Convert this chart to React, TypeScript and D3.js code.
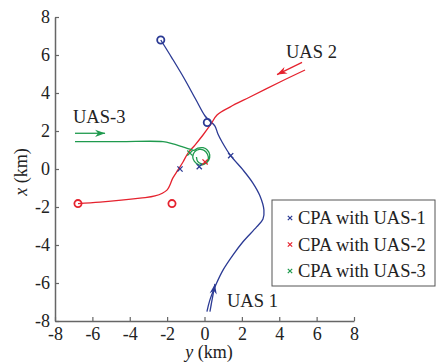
import React, { useEffect, useRef } from "react";
import * as d3 from "d3";

// trajectories in km, [y, x] as plotted (horizontal = y, vertical = x)
const uas1Path: [number, number][] = [
  [-2.34, 6.79], [-1.74, 5.84], [-1.1, 4.79], [-0.45, 3.63], [0.03, 2.79],
  [0.29, 2.53], [0.56, 2.26], [0.72, 1.84], [0.94, 1.42], [1.4, 0.7],
  [2.06, -0.05], [2.59, -0.74], [2.97, -1.42], [3.18, -2.16], [3.13, -2.63],
  [2.79, -3.05], [2.06, -3.83], [1.52, -4.53], [0.99, -5.32], [0.65, -6.0],
  [0.29, -6.89], [0.13, -7.51],
];
const uas2Path: [number, number][] = [
  [5.38, 5.21], [4.04, 4.58], [2.43, 3.79], [1.36, 3.26], [0.67, 2.84],
  [0.35, 2.37], [-0.08, 1.79], [-0.51, 1.26], [-0.88, 0.84], [-1.15, 0.37],
  [-1.42, -0.05], [-1.69, -0.47], [-2.01, -1.11], [-2.65, -1.42],
  [-3.45, -1.53], [-5.59, -1.74], [-6.77, -1.82],
];
const uas3Path: [number, number][] = [
  [-6.93, 1.44], [-4.52, 1.44], [-2.22, 1.44], [-1.74, 1.34], [-1.2, 1.18],
  [-0.78, 1.05], [-0.58, 0.98], [-0.36, 1.1], [-0.08, 1.12], [0.16, 0.99],
  [0.28, 0.74], [0.22, 0.45], [-0.01, 0.25], [-0.3, 0.22], [-0.54, 0.4],
  [-0.63, 0.64], [-0.53, 0.9], [-0.29, 1.03], [-0.02, 0.98], [0.16, 0.78],
  [0.2, 0.52], [0.05, 0.31], [-0.19, 0.28], [-0.37, 0.4], [-0.43, 0.63],
];
const uas1Circles: [number, number][] = [[-2.34, 6.79], [0.15, 2.45]];
const uas2Circles: [number, number][] = [[-6.77, -1.82], [-1.74, -1.82]];

const cpaUas1: [number, number][] = [[-1.31, 0.0], [-0.28, 0.12], [1.4, 0.7]];
const cpaUas2: [number, number][] = [[0.03, 0.37]];
const cpaUas3: [number, number][] = [[-0.78, 0.84]];

// direction arrows [from, to]
const arrow1: [number, number][] = [[0.29, -7.51], [0.56, -6.05]];
const arrow2: [number, number][] = [[5.22, 5.61], [3.88, 4.97]];
const arrow3: [number, number][] = [[-6.93, 1.88], [-5.32, 1.88]];

const ticks = [-8, -6, -4, -2, 0, 2, 4, 6, 8];
const legendLabels = ["CPA with UAS-1", "CPA with UAS-2", "CPA with UAS-3"];

const blue = "#2b3a94";
const red = "#e5222e";
const green = "#1f9a4e";
const axisColor = "#666";
const textColor = "#222";
const font = "'Liberation Serif', 'Times New Roman', serif";

export default function App() {
  const ref = useRef<SVGSVGElement>(null);

  useEffect(() => {
    document.body.style.margin = "0";
    const width = 437;
    const height = 363;
    const svg = d3.select(ref.current);
    svg.selectAll("*").remove();
    svg.attr("width", width).attr("height", height);

    const x = d3.scaleLinear().domain([-8, 8]).range([55, 354]);
    const y = d3.scaleLinear().domain([-8, 8]).range([321, 17]);
    const fmt = (d: number) => String(d); // plain hyphen minus like the original

    // axes
    const xAxis = svg.append("g").attr("transform", `translate(0,${y(-8)})`)
      .call(d3.axisBottom(x).tickValues(ticks).tickFormat(fmt as any)
        .tickSizeInner(-4).tickSizeOuter(0).tickPadding(6));
    const yAxis = svg.append("g").attr("transform", `translate(${x(-8)},0)`)
      .call(d3.axisLeft(y).tickValues(ticks).tickFormat(fmt as any)
        .tickSizeInner(-4).tickSizeOuter(0).tickPadding(5));
    [xAxis, yAxis].forEach((a) => {
      a.attr("font-family", font).attr("font-size", 18);
      a.select(".domain").attr("stroke", axisColor).attr("stroke-width", 1.5);
      a.selectAll(".tick line").attr("stroke", axisColor).attr("stroke-width", 1.2);
      a.selectAll(".tick text")
        .attr("fill", textColor)
        .style("font-family", font)
        .style("font-size", "18px");
    });

    // axis titles
    const xt = svg.append("text")
      .attr("x", 209).attr("y", 358)
      .attr("text-anchor", "middle")
      .attr("fill", textColor)
      .style("font-family", font).style("font-size", "18px");
    xt.append("tspan").attr("font-style", "italic").text("y");
    xt.append("tspan").text(" (km)");
    const yt = svg.append("text")
      .attr("transform", `translate(27,172) rotate(-90)`)
      .attr("text-anchor", "middle")
      .attr("fill", textColor)
      .style("font-family", font).style("font-size", "18px");
    yt.append("tspan").attr("font-style", "italic").text("x");
    yt.append("tspan").text(" (km)");

    const line = d3.line<[number, number]>()
      .x((d) => x(d[0]))
      .y((d) => y(d[1]))
      .curve(d3.curveCatmullRom.alpha(0.5));

    const paths = [
      { data: uas1Path, color: blue },
      { data: uas2Path, color: red },
      { data: uas3Path, color: green },
    ];
    svg.selectAll(".traj").data(paths).enter().append("path")
      .attr("class", "traj")
      .attr("fill", "none")
      .attr("stroke", (d) => d.color)
      .attr("stroke-width", 1.3)
      .attr("d", (d) => line(d.data));

    // circles
    const circ = [
      ...uas1Circles.map((p) => ({ p, color: blue })),
      ...uas2Circles.map((p) => ({ p, color: red })),
    ];
    svg.selectAll(".circ").data(circ).enter().append("circle")
      .attr("class", "circ")
      .attr("cx", (d) => x(d.p[0]))
      .attr("cy", (d) => y(d.p[1]))
      .attr("r", 3.6)
      .attr("fill", "none")
      .attr("stroke", (d) => d.color)
      .attr("stroke-width", 1.8);

    // cpa crosses
    const crossPath = (cx: number, cy: number, s: number) =>
      `M${cx - s},${cy - s}L${cx + s},${cy + s}M${cx - s},${cy + s}L${cx + s},${cy - s}`;
    const marks = [
      ...cpaUas1.map((p) => ({ p, color: blue })),
      ...cpaUas2.map((p) => ({ p, color: red })),
      ...cpaUas3.map((p) => ({ p, color: green })),
    ];
    svg.selectAll(".cpa").data(marks).enter().append("path")
      .attr("class", "cpa")
      .attr("fill", "none")
      .attr("stroke", (d) => d.color)
      .attr("stroke-width", 1.3)
      .attr("d", (d) => crossPath(x(d.p[0]), y(d.p[1]), 2.6));

    // arrows
    const arrows = [
      { a: arrow1, color: blue },
      { a: arrow2, color: red },
      { a: arrow3, color: green },
    ];
    arrows.forEach(({ a, color }) => {
      const x0 = x(a[0][0]), y0 = y(a[0][1]);
      const x1 = x(a[1][0]), y1 = y(a[1][1]);
      svg.append("line")
        .attr("x1", x0).attr("y1", y0).attr("x2", x1).attr("y2", y1)
        .attr("stroke", color).attr("stroke-width", 1.3);
      const ang = Math.atan2(y1 - y0, x1 - x0);
      const len = 10, hw = 3.6;
      const bx = x1 - len * Math.cos(ang), by = y1 - len * Math.sin(ang);
      const nx = -Math.sin(ang), ny = Math.cos(ang);
      const mx = x1 - len * 0.7 * Math.cos(ang), my = y1 - len * 0.7 * Math.sin(ang);
      svg.append("path")
        .attr("d", `M${x1},${y1}L${bx + nx * hw},${by + ny * hw}L${mx},${my}L${bx - nx * hw},${by - ny * hw}Z`)
        .attr("fill", color);
    });

    // labels
    const labels = [
      { t: "UAS 2", px: 286, py: 58 },
      { t: "UAS-3", px: 73, py: 123 },
      { t: "UAS 1", px: 227, py: 307 },
    ];
    svg.selectAll(".lbl").data(labels).enter().append("text")
      .attr("class", "lbl")
      .attr("x", (d) => d.px).attr("y", (d) => d.py)
      .attr("fill", textColor)
      .style("font-family", font).style("font-size", "18.5px")
      .text((d) => d.t);

    // legend
    const lg = svg.append("g");
    lg.append("rect")
      .attr("x", 272).attr("y", 200).attr("width", 163).attr("height", 86)
      .attr("fill", "white").attr("stroke", "#555").attr("stroke-width", 1);
    const lcol = [blue, red, green];
    legendLabels.forEach((t, i) => {
      const cy = 218 + i * 26.5;
      lg.append("path")
        .attr("d", crossPath(290, cy, 2.2))
        .attr("stroke", lcol[i]).attr("stroke-width", 1.2).attr("fill", "none");
      lg.append("text")
        .attr("x", 298).attr("y", cy + 6)
        .attr("fill", textColor)
        .style("font-family", font).style("font-size", "18.5px")
        .text(t);
    });
  }, []);

  return <svg ref={ref} style={{ display: "block" }} />;
}
